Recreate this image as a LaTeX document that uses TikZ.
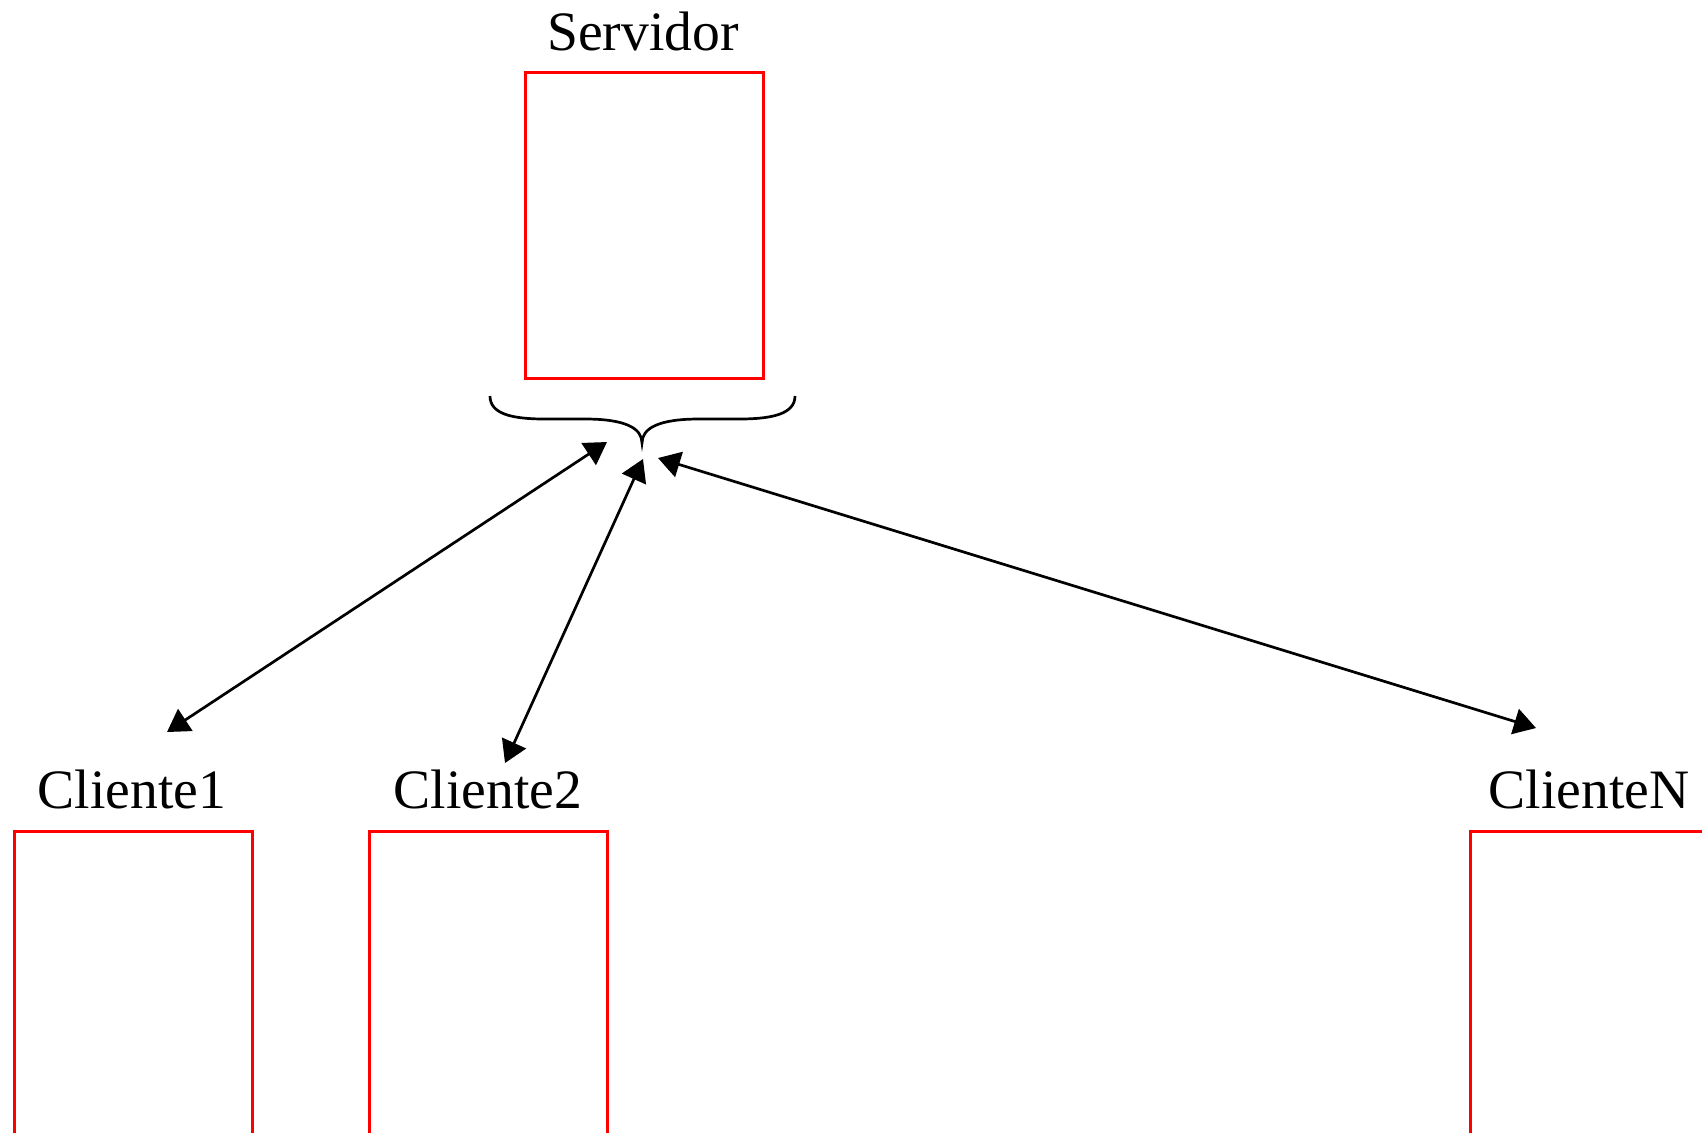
\documentclass[tikz,border=0pt]{standalone}
\usepackage{fontspec}
\setmainfont{Liberation Serif}
\usetikzlibrary{arrows.meta}
\begin{document}
\begin{tikzpicture}[x=0.5pt,y=-0.5pt,
  box/.style={draw=red, line width=1.5pt, minimum width=119pt, minimum height=153pt, inner sep=0pt, outer sep=0pt},
  lbl/.style={anchor=base, inner sep=0pt, font=\fontsize{27.8}{34}\selectfont},
  link/.style={line width=1.35pt, {Triangle[length=11pt,width=13pt]}-{Triangle[length=11pt,width=13pt]}},
  bracestyle/.style={line width=1.35pt}]
\useasboundingbox (0,0) rectangle (1702,1132);
\clip (0,0) rectangle (1702,1132);
% server
\node[box] (srv) at (644,225) {};
\node[lbl] (srvl) at (643,50) {Servidor};
% clients
\node[box] (c1) at (133,984) {};
\node[lbl] (c1l) at (132,808) {Cliente1};
\node[box] (c2) at (488,984) {};
\node[lbl] (c2l) at (488,808) {Cliente2};
\node[box] (cn) at (1589,984) {};
\node[lbl] (cnl) at (1589,808) {ClienteN};
% brace
\coordinate (bl) at (490,396);
\coordinate (bt) at (642,443);
\coordinate (br) at (795,396);
\draw[bracestyle] (bl) .. controls (490,414) and (512,419) .. (545,419)
  -- (585,419) .. controls (625,419) and (642,428) .. (bt)
  .. controls (642,428) and (659,419) .. (699,419)
  -- (739,419) .. controls (772,419) and (795,414) .. (br);
% arrow ends
\coordinate (a1s) at (607,442);
\coordinate (a1e) at (167,732);
\coordinate (a2s) at (643,459);
\coordinate (a2e) at (505,763);
\coordinate (a3s) at (658,458);
\coordinate (a3e) at (1536,728);
\draw[link] (a1s) -- (a1e);
\draw[link] (a2s) -- (a2e);
\draw[link] (a3s) -- (a3e);
\end{tikzpicture}
\end{document}
